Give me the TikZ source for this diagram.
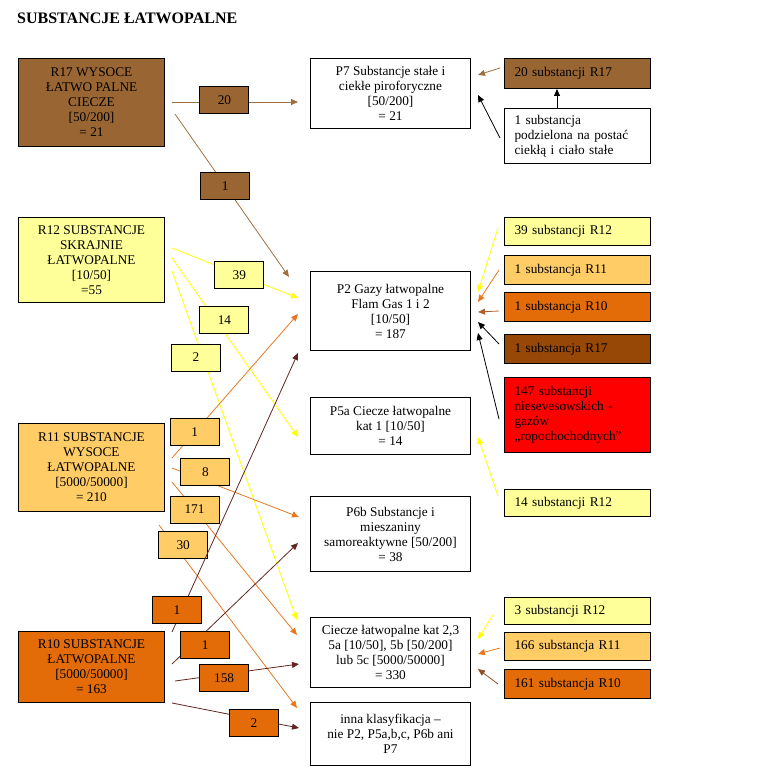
\documentclass[tikz,border=0pt]{standalone}
\usepackage{fontspec}
\setmainfont{Liberation Serif}
\usetikzlibrary{arrows.meta,positioning,calc}
\definecolor{brownR17}{RGB}{153,102,51}
\definecolor{yellowR12}{RGB}{255,255,153}
\definecolor{orangeR11}{RGB}{255,204,102}
\definecolor{orangeR10}{RGB}{227,108,9}
\definecolor{darkR17}{RGB}{151,72,6}
\definecolor{line17}{RGB}{160,112,64}
\definecolor{line12}{RGB}{255,255,0}
\definecolor{line11}{RGB}{232,119,34}
\definecolor{line10}{RGB}{99,37,35}
\definecolor{lineR10}{RGB}{176,96,40}
\definecolor{lineR10b}{RGB}{140,80,40}

\begin{document}
\begin{tikzpicture}[x=1pt, y=-1pt,
  src/.style={draw, line width=1pt, minimum width=146pt, align=center, inner sep=2pt, font=\fontsize{13.3}{15}\selectfont},
  cat/.style={draw, line width=1pt, minimum width=160pt, align=center, inner sep=2pt, font=\fontsize{13.3}{15}\selectfont},
  note/.style={draw, line width=1pt, text width=126pt, inner xsep=10pt, inner ysep=2pt, align=left, font=\fontsize{13.3}{15}\selectfont},
  num/.style={draw=black, text=black, line width=1pt, minimum width=49pt, minimum height=27pt, inner sep=1pt, font=\fontsize{13.3}{15}\selectfont},
  arr/.style={-{Triangle[length=7pt,width=6pt]}, line width=0.8pt}
]
\useasboundingbox (0,0) rectangle (768,773);

\node[font=\bfseries\fontsize{16}{18}\selectfont, anchor=base west, inner sep=0pt] (title) at (17,24) {SUBSTANCJE ŁATWOPALNE};

% R-phrases
\node[src, fill=brownR17, minimum height=88pt, anchor=north west] (r17) at (18,58) {R17 WYSOCE\\ŁATWO PALNE\\CIECZE\\{[50/200]}\\= 21};
\node[src, fill=yellowR12, minimum height=85pt, below=70pt of r17] (r12) {R12 SUBSTANCJE\\SKRAJNIE\\ŁATWOPALNE\\{[10/50]}\\=55};
\node[src, fill=orangeR11, minimum height=88pt, below=120pt of r12] (r11) {R11 SUBSTANCJE\\WYSOCE\\ŁATWOPALNE\\{[5000/50000]}\\= 210};
\node[src, fill=orangeR10, minimum height=71pt, below=119pt of r11] (r10) {R10 SUBSTANCJE\\ŁATWOPALNE\\{[5000/50000]}\\= 163};

% categories
\node[cat, minimum height=70pt, right=145pt of r17.north east, anchor=north west] (p7) {P7 Substancje stałe i\\ciekłe piroforyczne\\{[50/200]}\\= 21};
\node[cat, minimum height=79pt, below=142pt of p7] (p2) {P2 Gazy łatwopalne\\Flam Gas 1 i 2\\{[10/50]}\\= 187};
\node[cat, minimum height=57pt, below=46pt of p2] (p5a) {P5a Ciecze łatwopalne\\kat 1 [10/50]\\= 14};
\node[cat, minimum height=75pt, below=41pt of p5a] (p6b) {P6b Substancje i\\mieszaniny\\samoreaktywne [50/200]\\= 38};
\node[cat, minimum height=70pt, below=45pt of p6b] (p25) {Ciecze łatwopalne kat 2,3\\5a [10/50], 5b [50/200]\\lub 5c [5000/50000]\\= 330};
\node[cat, minimum height=63pt, below=14pt of p25] (inna) {inna klasyfikacja --\\nie P2, P5a,b,c, P6b ani\\P7};

% notes
\node[note, fill=brownR17, minimum height=30pt, right=33pt of p7.north east, anchor=north west] (s20) {20 substancji R17};
\node[note, minimum height=55pt, below=19pt of s20] (split) {1 substancja\\podzielona na postać\\ciekłą i ciało stałe};
\node[note, fill=yellowR12, minimum height=28pt, below=53pt of split] (s39) {39 substancji R12};
\node[note, fill=orangeR11, minimum height=29pt, below=9pt of s39] (s1r11) {1 substancja R11};
\node[note, fill=orangeR10, minimum height=29pt, below=7pt of s1r11] (s1r10) {1 substancja R10};
\node[note, fill=darkR17, minimum height=29pt, below=12pt of s1r10] (s1r17) {1 substancja R17};
\node[note, fill=red, minimum height=75pt, below=13pt of s1r17] (s147) {147 substancji\\niesevesowskich -\\gazów\\„ropochochodnych”};
\node[note, fill=yellowR12, minimum height=27pt, below=36pt of s147] (s14) {14 substancji R12};
\node[note, fill=yellowR12, minimum height=27pt, below=80pt of s14] (s3) {3 substancji R12};
\node[note, fill=orangeR11, minimum height=28pt, below=7pt of s3] (s166) {166 substancja R11};
\node[note, fill=orangeR10, minimum height=29pt, below=8pt of s166] (s161) {161 substancja R10};

% R17
\draw[arr, line17] ($(r17.north east)+(7,44)$) -- node[num, fill=brownR17, pos=0.416, yshift=1.5pt] (n20) {20} ($(p7.north west)+(-12,44)$);
\draw[arr, line17] ($(r17.north east)+(10,56)$) -- node[num, fill=brownR17, pos=0.44] (n1a) {1} ($(p2.north west)+(-21,6)$);
% R12
\draw[arr, line12] ($(r12.north east)+(7,31)$) -- node[num, fill=yellowR12, pos=0.534] (n39) {39} ($(p2.north west)+(-12,27)$);
\draw[arr, line12] ($(r12.north east)+(7,41)$) -- node[num, fill=yellowR12, pos=0.345, xshift=9pt] (n14) {14} ($(p5a.north west)+(-12,40)$);
\draw[arr, line12] ($(r12.north east)+(7,54)$) -- node[num, fill=yellowR12, pos=0.248, xshift=-7pt] (n2a) {2} ($(p25.north west)+(-13,3)$);
% R11
\draw[arr, line11] ($(r11.north east)+(7,35)$) -- node[num, fill=orangeR11, pos=0.18] (n1b) {1} ($(p2.north west)+(-12,43)$);
\draw[arr, line11] ($(r11.north east)+(7,45)$) -- node[num, fill=orangeR11, pos=0.263, yshift=9pt] (n8) {8} ($(p6b.north west)+(-11,21)$);
\draw[arr, line11] ($(r11.north east)+(7,59)$) -- node[num, fill=orangeR11, pos=0.18] (n171) {171} ($(p25.north west)+(-13,18)$);
\draw[arr, line11] ($(r11.south east)+(-6,13)$) -- node[num, fill=orangeR11, pos=0.11, xshift=9pt] (n30) {30} ($(inna.north west)+(-13,6)$);
% R10
\draw[arr, line10] ($(r10.north east)+(7,1)$) -- node[num, fill=orangeR10, pos=0.078, xshift=-5pt] (n1c) {1} ($(p2.north west)+(-12,82)$);
\draw[arr, line10] ($(r10.north east)+(7,33)$) -- node[num, fill=orangeR10, pos=0.153, xshift=14pt] (n1d) {1} ($(p6b.north west)+(-12,47)$);
\draw[arr, line10] ($(r10.north east)+(10,50)$) -- node[num, fill=orangeR10, pos=0.396, yshift=-4pt] (n158) {158} ($(p25.north west)+(-11,47)$);
\draw[arr, line10] ($(r10.south east)+(7,0)$) -- node[num, fill=orangeR10, pos=0.645, yshift=-4pt] (n2b) {2} ($(inna.north west)+(-11,26)$);

% notes to categories
\draw[arr, line17] ($(s20.north west)+(-4,10)$) -- ($(p7.north east)+(7,17)$);
\draw[arr] ($(split.north west)+(53,0)$) -- ($(s20.south west)+(53,0)$);
\draw[arr] ($(split.north west)+(-4,30)$) -- ($(p7.north east)+(7,37)$);
\draw[arr, line12] ($(s39.north west)+(-6,11)$) -- ($(p2.north east)+(7,21)$);
\draw[arr, line11] ($(s1r11.north west)+(-5,15)$) -- ($(p2.north east)+(7,31)$);
\draw[arr, lineR10] ($(s1r10.north west)+(-5,19)$) -- ($(p2.north east)+(7,41)$);
\draw[arr] ($(s1r17.north west)+(-5,10)$) -- ($(p2.north east)+(7,51)$);
\draw[arr] ($(s147.north west)+(-5,42)$) -- ($(p2.north east)+(7,62)$);
\draw[arr, line12] ($(s14.north west)+(-6,7)$) -- ($(p5a.north east)+(7,40)$);
\draw[arr, line12] ($(s3.north west)+(-11,18)$) -- ($(p25.north east)+(7,22)$);
\draw[arr, line11] ($(s166.north west)+(-4,16)$) -- ($(p25.north east)+(7,37)$);
\draw[arr, lineR10b] ($(s161.north west)+(-6,15)$) -- ($(p25.north east)+(7,52)$);
\end{tikzpicture}
\end{document}
